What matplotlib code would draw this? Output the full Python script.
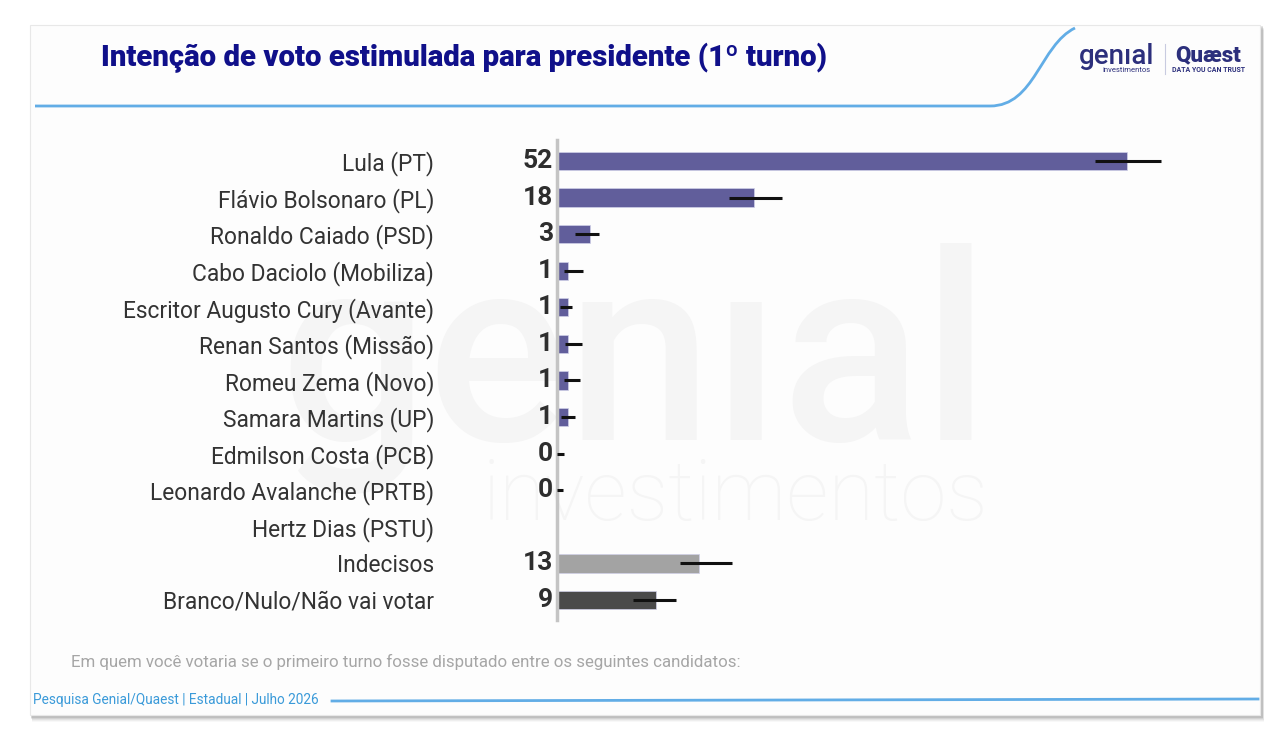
import numpy as np
import matplotlib.pyplot as plt
from matplotlib.patches import Rectangle, PathPatch
from matplotlib.path import Path

plt.rcParams['font.family'] = ['Roboto', 'DejaVu Sans']

# data
names = ['Lula (PT)', 'Flávio Bolsonaro (PL)', 'Ronaldo Caiado (PSD)', 'Cabo Daciolo (Mobiliza)',
         'Escritor Augusto Cury (Avante)', 'Renan Santos (Missão)', 'Romeu Zema (Novo)',
         'Samara Martins (UP)', 'Edmilson Costa (PCB)', 'Leonardo Avalanche (PRTB)',
         'Hertz Dias (PSTU)', 'Indecisos', 'Branco/Nulo/Não vai votar']
values = [52, 18, 3, 1, 1, 1, 1, 1, 0, 0, np.nan, 13, 9]
err_lo = [49.1, 15.7, 1.6, 0.6, 0.3, 0.7, 0.6, 0.4, 0.0, 0.0, np.nan, 11.2, 6.9]
err_hi = [55.1, 20.5, 3.8, 2.4, 1.4, 2.3, 2.1, 1.6, 0.6, 0.55, np.nan, 16.0, 10.9]
bar_colors = ['#615e9b'] * 11 + ['#a3a3a3', '#4a4a4a']

title = 'Intenção de voto estimulada para presidente (1º turno)'
note = 'Em quem você votaria se o primeiro turno fosse disputado entre os seguintes candidatos:'
footer = 'Pesquisa Genial/Quaest | Estadual | Julho 2026'

W, H = 1284, 744
fig = plt.figure(figsize=(W / 100, H / 100), dpi=100)
fig.patch.set_facecolor('white')

# background in pixel coords
bg = fig.add_axes([0, 0, 1, 1], zorder=0)
bg.set_xlim(0, W)
bg.set_ylim(H, 0)
bg.axis('off')

# card shadow
for i, a in enumerate([0.04, 0.06, 0.08, 0.11, 0.15]):
    d = 8 - i * 1.5
    bg.add_patch(Rectangle((30 + d * 0.3, 25 + d * 0.6), 1232, 692, facecolor='#555555',
                           alpha=a, edgecolor='none', zorder=1))
bg.add_patch(Rectangle((30, 25), 1230, 690, facecolor='#fdfdfd', edgecolor='#e8e8e8',
                       lw=0.8, zorder=2))

# watermark
bg.text(990, 440, 'gen\u0131al', fontsize=188, color='#f5f5f5', ha='right', va='baseline',
        fontweight='medium', zorder=3)
bg.text(988, 520, 'investimentos', fontsize=60, color='#f5f5f5', ha='right', va='baseline',
        fontweight='light', zorder=3)

# header line with curve
verts = [(35, 106), (990, 106), (1035, 106), (1040, 45), (1075, 28)]
codes = [Path.MOVETO, Path.LINETO, Path.CURVE4, Path.CURVE4, Path.CURVE4]
bg.add_patch(PathPatch(Path(verts, codes), facecolor='none', edgecolor='#62ade6', lw=2, zorder=4))

# title
bg.text(101, 58, title, fontsize=21.2, fontweight='black', color='#10108a', ha='left',
        va='center', zorder=5)

# logos (text approximation)
bg.text(1117, 57, 'gen\u0131al', fontsize=20, fontweight='medium', color='#2c2f7c',
        ha='center', va='center', zorder=5)
bg.text(1127, 70, 'investimentos', fontsize=5.5, color='#2c2f7c', ha='center', va='center', zorder=5)
bg.plot([1165, 1165], [44, 74], color='#c8cbe0', lw=0.8, zorder=5)
bg.text(1208, 55, 'Quæst', fontsize=16, fontweight='black', color='#2c2f7c', ha='center',
        va='center', zorder=5)
bg.text(1209, 70, 'DATA YOU CAN TRUST', fontsize=5, fontweight='bold', color='#2c2f7c',
        ha='center', va='center', zorder=5)

# notes
bg.text(71, 662, note, fontsize=12.2, color='#a6a6a6', ha='left', va='center', zorder=5)
bg.text(33, 700, footer, fontsize=9.8, color='#3a9ad9', ha='left', va='center', zorder=5)
bg.plot([332, 1258], [701, 699], color='#62ade6', lw=2, zorder=5)

# main chart axes: x=0 at 557px, 10.96 px per unit; rows at 161 + i*36.58
x0, ppu = 557, 10.96
top, bot = 140, 620
row0, rstep = 161, 36.58
right = 1200
ax = fig.add_axes([x0 / W, 1 - bot / H, (right - x0) / W, (bot - top) / H], zorder=2)
ax.patch.set_alpha(0)
ax.set_xlim(0, (right - x0) / ppu)
ax.set_ylim((bot - row0) / rstep, (top - row0) / rstep)

y = np.arange(len(names))
vals = np.array(values, dtype=float)
ax.barh(y, np.nan_to_num(vals), height=0.5, color=bar_colors, edgecolor='#d0d0e8',
        linewidth=0.5, zorder=2)
ax.hlines(y, err_lo, err_hi, color='#111111', lw=2.2, zorder=3)

for yi, v in zip(y, values):
    if np.isnan(v):
        continue
    ax.annotate(f'{v:.0f}', xy=(0, yi), xytext=(-3, 0), textcoords='offset points',
                ha='right', va='center', fontsize=19, fontweight='bold', color='#2e2e2e')

ax.set_yticks(y)
ax.set_yticklabels(names, fontsize=16.4, color='#333333')
ax.tick_params(axis='y', length=0, pad=88.5)
ax.set_xticks([])
for s in ['top', 'right', 'bottom']:
    ax.spines[s].set_visible(False)
ax.spines['left'].set_color('#c4c4c4')
ax.spines['left'].set_linewidth(2.5)

plt.savefig('out.png', dpi=100)
